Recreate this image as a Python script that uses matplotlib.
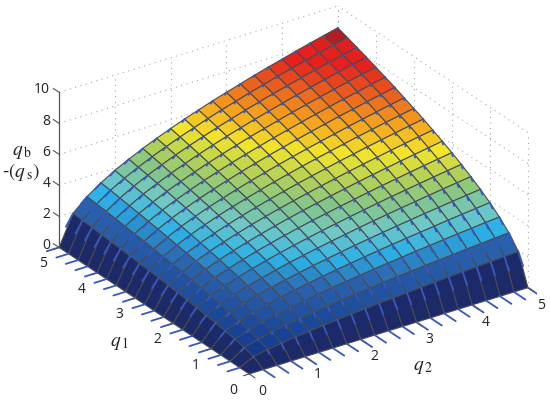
import numpy as np
import matplotlib
matplotlib.use("Agg")
import matplotlib.pyplot as plt
from matplotlib.colors import LinearSegmentedColormap
from mpl_toolkits.mplot3d import proj3d

plt.rcParams["font.family"] = ["Open Sans", "DejaVu Sans"]
plt.rcParams["mathtext.fontset"] = "stix"

q1 = [0, 0.25, 0.5, 0.75, 1, 1.25, 1.5, 1.75, 2, 2.25, 2.5, 2.75, 3, 3.25, 3.5, 3.75, 4, 4.25, 4.5, 4.75, 5]
q2 = [0, 0.25, 0.5, 0.75, 1, 1.25, 1.5, 1.75, 2, 2.25, 2.5, 2.75, 3, 3.25, 3.5, 3.75, 4, 4.25, 4.5, 4.75, 5]
q_ticks = [0, 1, 2, 3, 4, 5]
z_ticks = [0, 2, 4, 6, 8, 10]

# surface height, rows are q1, columns q2
qb = [
    [0, 0, 0, 0, 0, 0, 0, 0, 0, 0, 0, 0, 0, 0, 0, 0, 0, 0, 0, 0, 0],
    [0, 0.43, 0.61, 0.74, 0.86, 0.96, 1.05, 1.14, 1.22, 1.29, 1.36, 1.43, 1.49, 1.55, 1.61, 1.67, 1.72, 1.77, 1.82, 1.87, 1.92],
    [0, 0.61, 0.86, 1.05, 1.22, 1.36, 1.49, 1.61, 1.72, 1.82, 1.92, 2.02, 2.11, 2.19, 2.28, 2.35, 2.43, 2.51, 2.58, 2.65, 2.72],
    [0, 0.74, 1.05, 1.29, 1.49, 1.67, 1.82, 1.97, 2.11, 2.23, 2.36, 2.47, 2.58, 2.68, 2.79, 2.88, 2.98, 3.07, 3.16, 3.25, 3.33],
    [0, 0.86, 1.22, 1.49, 1.72, 1.92, 2.11, 2.28, 2.43, 2.58, 2.72, 2.85, 2.98, 3.10, 3.22, 3.33, 3.44, 3.55, 3.65, 3.75, 3.85],
    [0, 0.96, 1.36, 1.67, 1.92, 2.15, 2.35, 2.54, 2.72, 2.88, 3.04, 3.19, 3.33, 3.47, 3.60, 3.72, 3.85, 3.96, 4.08, 4.19, 4.30],
    [0, 1.05, 1.49, 1.82, 2.11, 2.35, 2.58, 2.79, 2.98, 3.16, 3.33, 3.49, 3.65, 3.80, 3.94, 4.08, 4.21, 4.34, 4.47, 4.59, 4.71],
    [0, 1.14, 1.61, 1.97, 2.28, 2.54, 2.79, 3.01, 3.22, 3.41, 3.60, 3.77, 3.94, 4.10, 4.26, 4.41, 4.55, 4.69, 4.83, 4.96, 5.09],
    [0, 1.22, 1.72, 2.11, 2.43, 2.72, 2.98, 3.22, 3.44, 3.65, 3.85, 4.03, 4.21, 4.38, 4.55, 4.71, 4.86, 5.01, 5.16, 5.30, 5.44],
    [0, 1.29, 1.82, 2.23, 2.58, 2.88, 3.16, 3.41, 3.65, 3.87, 4.08, 4.28, 4.47, 4.65, 4.83, 5.00, 5.16, 5.32, 5.47, 5.62, 5.77],
    [0, 1.36, 1.92, 2.36, 2.72, 3.04, 3.33, 3.60, 3.85, 4.08, 4.30, 4.51, 4.71, 4.90, 5.09, 5.27, 5.44, 5.61, 5.77, 5.93, 6.08],
    [0, 1.43, 2.02, 2.47, 2.85, 3.19, 3.49, 3.77, 4.03, 4.28, 4.51, 4.73, 4.94, 5.14, 5.34, 5.52, 5.71, 5.88, 6.05, 6.22, 6.38],
    [0, 1.49, 2.11, 2.58, 2.98, 3.33, 3.65, 3.94, 4.21, 4.47, 4.71, 4.94, 5.16, 5.37, 5.57, 5.77, 5.96, 6.14, 6.32, 6.49, 6.66],
    [0, 1.55, 2.19, 2.68, 3.10, 3.47, 3.80, 4.10, 4.38, 4.65, 4.90, 5.14, 5.37, 5.59, 5.80, 6.00, 6.20, 6.39, 6.58, 6.76, 6.93],
    [0, 1.61, 2.28, 2.79, 3.22, 3.60, 3.94, 4.26, 4.55, 4.83, 5.09, 5.34, 5.57, 5.80, 6.02, 6.23, 6.44, 6.63, 6.83, 7.01, 7.20],
    [0, 1.67, 2.35, 2.88, 3.33, 3.72, 4.08, 4.41, 4.71, 5.00, 5.27, 5.52, 5.77, 6.00, 6.23, 6.45, 6.66, 6.87, 7.06, 7.26, 7.45],
    [0, 1.72, 2.43, 2.98, 3.44, 3.85, 4.21, 4.55, 4.86, 5.16, 5.44, 5.71, 5.96, 6.20, 6.44, 6.66, 6.88, 7.09, 7.30, 7.50, 7.69],
    [0, 1.77, 2.51, 3.07, 3.55, 3.96, 4.34, 4.69, 5.01, 5.32, 5.61, 5.88, 6.14, 6.39, 6.63, 6.87, 7.09, 7.31, 7.52, 7.73, 7.93],
    [0, 1.82, 2.58, 3.16, 3.65, 4.08, 4.47, 4.83, 5.16, 5.47, 5.77, 6.05, 6.32, 6.58, 6.83, 7.06, 7.30, 7.52, 7.74, 7.95, 8.16],
    [0, 1.87, 2.65, 3.25, 3.75, 4.19, 4.59, 4.96, 5.30, 5.62, 5.93, 6.22, 6.49, 6.76, 7.01, 7.26, 7.50, 7.73, 7.95, 8.17, 8.38],
    [0, 1.92, 2.72, 3.33, 3.85, 4.30, 4.71, 5.09, 5.44, 5.77, 6.08, 6.38, 6.66, 6.93, 7.20, 7.45, 7.69, 7.93, 8.16, 8.38, 8.60],
]

# colormap stops, height -> colour
cmap_z = [0, 0.4, 1.9, 2.6, 3.3, 4.0, 4.6, 5.3, 6.1, 6.8, 7.5, 7.9, 8.2, 8.6]
cmap_colors = ["#1c2a69", "#123a8f", "#2a62ad", "#2cb1e6", "#6fc8c8", "#82c68a", "#b0d05a",
               "#f2e52a", "#f5a01e", "#e9601f", "#e6201f", "#e6201f", "#b01f24", "#a81f24"]

cmap = LinearSegmentedColormap.from_list("surf", [(z / 8.6, c) for z, c in zip(cmap_z, cmap_colors)])

Q1 = np.array(q1)
Q2 = np.array(q2)
Z = np.array(qb)
X, Y = np.meshgrid(Q2, Q1)

fig = plt.figure(figsize=(5.5, 4.01), dpi=100)
W = 500.0
cx, cy = 293.5, 401 - 190
ax = fig.add_axes([(cx - 0.5135 * W) / 550, (cy - 0.5135 * W) / 401, W / 550, W / 401],
                  projection="3d", computed_zorder=False, proj_type="ortho")
ax.set_xlim(0, 5)
ax.set_ylim(0, 5)
ax.set_zlim(0, 10)
ax.view_init(elev=27, azim=-124.3)
ax.set_box_aspect((1, 1, 0.516), zoom=0.986)
ax.set_axis_off()


def label3d(x, y, z, s, ha="center"):
    # plain 2D text at the projected spot
    px, py, _ = proj3d.proj_transform(x, y, z, ax.get_proj())
    ax.text2D(px, py, s, ha=ha, va="center", fontsize=10, color="#222222", zorder=5, transform=ax.transData)


# dotted back walls
grid_style = dict(color="#a8a8a8", lw=0.8, ls=(0, (1, 4)), zorder=1)
for z in z_ticks:
    ax.plot([0, 5], [5, 5], [z, z], **grid_style)
    ax.plot([5, 5], [0, 5], [z, z], **grid_style)
for q in q_ticks:
    ax.plot([q, q], [5, 5], [0, 10], **grid_style)
    ax.plot([5, 5], [q, q], [0, 10], **grid_style)

ax.plot_surface(X, Y, Z, rstride=1, cstride=1, facecolors=cmap(Z / 8.6), shade=False,
                edgecolor="#4c4a4a", linewidth=0.8, antialiased=True, zorder=2)

# arrows, only the part that pokes out of the surface
g1, g2 = np.gradient(Z, Q1, Q2)
arrow_col = "#3558c0"
for i in range(len(q1)):
    for j in range(len(q2)):
        if i == 0 and j == 0:
            continue
        a, b = g1[i, j], g2[i, j]
        vis = 0.02 + 0.12 * abs(a - b) / (a + b)
        if i == 0:
            a, b, vis = 1.0, 0.0, 0.3
        if j == 0:
            a, b, vis = 0.0, 1.0, 0.22
        norm = np.hypot(a, b)
        dq1, dq2 = -a / norm * vis, -b / norm * vis
        dz = 0 if (i == 0 or j == 0) else -norm * vis
        ax.plot([q2[j], q2[j] + dq2], [q1[i], q1[i] + dq1], [Z[i, j], Z[i, j] + dz],
                color=arrow_col, lw=1.3, solid_capstyle="round", zorder=3)

# axes lines and ticks
ax_col = "#555555"
ax.plot([0, 0], [5, 5], [0, 10], color=ax_col, lw=0.9, zorder=4)
for z in z_ticks:
    ax.plot([0, 0], [5, 5.15], [z, z], color=ax_col, lw=0.8, zorder=4)
    label3d(-0.16, 5, z + 0.33, str(z), ha="right")
for q in q_ticks:
    ax.plot([0, -0.1], [q, q], [0, 0], color=ax_col, lw=0.8, zorder=4)
    ax.plot([q, q], [0, -0.15], [0, 0], color=ax_col, lw=0.8, zorder=4)
    label3d(-0.28, q, -0.75, str(q))
    label3d(q, -0.35, -0.55, str(q))

label_col = "#222222"
fig.text(119 / 550, 1 - 343 / 401, r"$q_{\,1}$", fontsize=14, ha="center", va="center", color=label_col)
fig.text(423 / 550, 1 - 367 / 401, r"$q_{\,2}$", fontsize=14, ha="center", va="center", color=label_col)
fig.text(22 / 550, 1 - 152 / 401, r"$q_{\,\mathrm{b}}$", fontsize=14, ha="center", va="center", color=label_col)
fig.text(21 / 550, 1 - 172 / 401, r"-$(q_{\,\mathrm{s}})$", fontsize=14, ha="center", va="center", color=label_col)

fig.savefig("out.png", dpi=100)
